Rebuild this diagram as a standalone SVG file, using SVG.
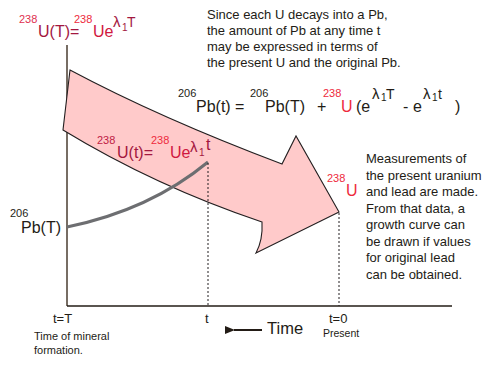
<svg xmlns="http://www.w3.org/2000/svg" width="493" height="365" viewBox="0 0 493 365">
<style>
text{font-family:"Liberation Sans",Arial,sans-serif;fill:#231c16}
.sup{font-size:11px}
.big{font-size:16px}
.body{font-size:13px}
.small{font-size:11px}
.lam{font-size:15px}
.sub{font-size:10px}
.red{fill:#ee2a3d}
.crim{fill:#a3173f}
.dash{stroke:#231f20;stroke-width:1;stroke-dasharray:2 2;fill:none}
</style>
<defs>
<marker id="ah" viewBox="0 0 10 8" refX="1" refY="4" markerWidth="10" markerHeight="8" markerUnits="userSpaceOnUse" orient="auto-start-reverse">
<path d="M0,4 L10,0 L10,8 Z" fill="#231c16"/>
</marker>
</defs>
<rect width="493" height="365" fill="#fff"/>

<g id="connectors">
<line x1="67" y1="45" x2="67" y2="306" stroke="#4a3d30" stroke-width="1.5"/>
<line x1="67" y1="306" x2="452" y2="306" stroke="#231c16" stroke-width="1.5"/>
<path id="big-arrow" d="M70,70 Q160,118 282,164 L296,136 L339,212 L256,253 Q263,240 262,222 Q155,186 63,130 Z" fill="#ffcaca" stroke="#231f20" stroke-width="1.1" stroke-linejoin="miter"/>
<path d="M67,227 Q150,210 208,162" fill="none" stroke="#6d6e71" stroke-width="3"/>
<line class="dash" x1="208" y1="163" x2="208" y2="306"/>
<line class="dash" x1="339" y1="213" x2="339" y2="306"/>
<line x1="262" y1="330" x2="234" y2="330" stroke="#231c16" stroke-width="2" marker-end="url(#ah)"/>
</g>

<g id="label-UT">
<text x="19" y="23" class="sup" style="fill:#e0304f">238</text>
<text x="38" y="37" class="big crim">U(T)=</text>
<text x="74" y="23" class="sup red">238</text>
<text x="93" y="37" class="big" style="fill:#d01840">Ue</text>
<text x="113" y="27" class="lam crim">λ</text>
<text x="122" y="31" class="sub crim">1</text>
<text x="127" y="27" class="crim" style="font-size:14px">T</text>
</g>

<g id="note-top">
<text class="body" x="207" y="19">Since each U decays into a Pb,</text>
<text class="body" x="207" y="35">the amount of Pb at any time t</text>
<text class="body" x="207" y="51">may be expressed in terms of</text>
<text class="body" x="207" y="67">the present U and the original Pb.</text>
</g>

<g id="equation">
<text x="178" y="97" class="sup">206</text>
<text x="196" y="112" class="big">Pb(t) =</text>
<text x="250" y="97" class="sup">206</text>
<text x="265" y="112" class="big">Pb(T)</text>
<text x="317" y="112" class="big">+</text>
<text x="323" y="97" class="sup red">238</text>
<text x="341" y="112" class="big red">U</text>
<text x="356" y="112" class="big">(e</text>
<text x="372" y="99" class="lam">λ</text>
<text x="381" y="101" class="sub">1</text>
<text x="386" y="99" style="font-size:14px">T</text>
<text x="403" y="112" class="big">-</text>
<text x="413" y="112" class="big">e</text>
<text x="423" y="99" class="lam">λ</text>
<text x="432" y="101" class="sub">1</text>
<text x="438" y="99" style="font-size:14px">t</text>
<text x="455" y="112" class="big">)</text>
</g>

<g id="label-Ut">
<text x="97" y="144" class="sup" style="fill:#c01a45">238</text>
<text x="117" y="158" class="big crim">U(t)=</text>
<text x="151" y="144" class="sup red">238</text>
<text x="170" y="158" class="big" style="fill:#d01840">Ue</text>
<text x="190" y="152" class="lam crim">λ</text>
<text x="199" y="156" class="sub crim">1</text>
<text x="206" y="150" class="big crim">t</text>
</g>

<g id="label-PbT">
<text x="10" y="217" class="sup">206</text>
<text x="21" y="233" class="big">Pb(T)</text>
</g>

<g id="label-Upresent">
<text x="327" y="182" class="sup red">238</text>
<text x="346" y="196" class="big red">U</text>
</g>

<g id="note-right">
<text class="body" x="366" y="163">Measurements of</text>
<text class="body" x="366" y="180">the present uranium</text>
<text class="body" x="366" y="196">and lead are made.</text>
<text class="body" x="366" y="213">From that data, a</text>
<text class="body" x="366" y="229">growth curve can</text>
<text class="body" x="366" y="246">be drawn if values</text>
<text class="body" x="366" y="262">for original lead</text>
<text class="body" x="366" y="279">can be obtained.</text>
</g>

<g id="axis-labels">
<text x="53" y="323" style="font-size:13px">t=T</text>
<text x="34" y="340" class="small">Time of mineral</text>
<text x="34" y="354" class="small">formation.</text>
<text x="205" y="323" style="font-size:13px">t</text>
<text x="267" y="334" style="font-size:16.5px">Time</text>
<text x="329" y="323" style="font-size:13px">t=0</text>
<text x="323" y="337" style="font-size:10.5px">Present</text>
</g>
</svg>
